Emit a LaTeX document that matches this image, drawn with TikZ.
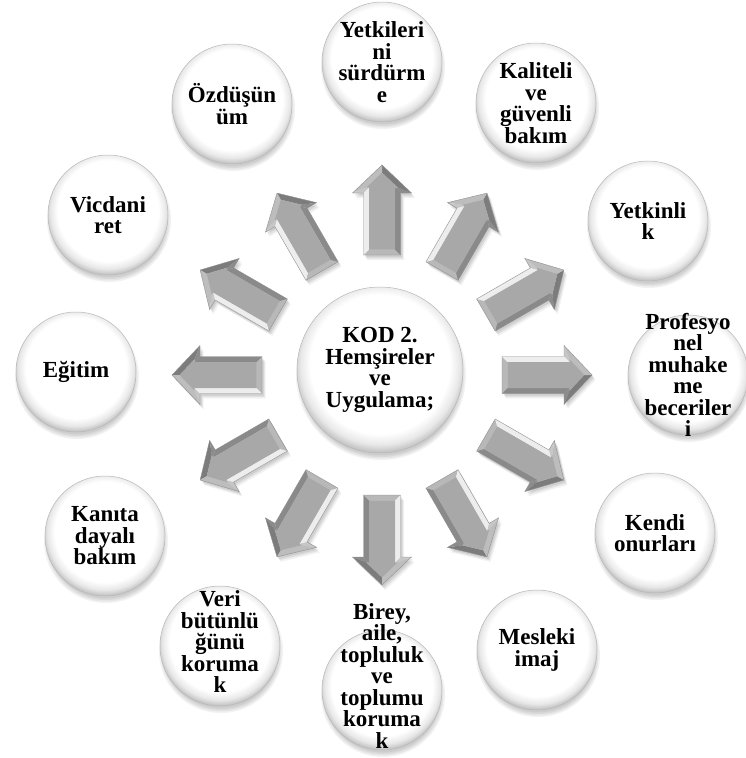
\documentclass[tikz,border=0pt]{standalone}
\usepackage{fontspec}
\setmainfont{Liberation Serif}
\usetikzlibrary{calc}
\pgfdeclareradialshading{btn}{\pgfpoint{0bp}{3bp}}{color(0bp)=(white); color(21bp)=(white); color(24bp)=(black!9); color(26.5bp)=(black!26); color(28bp)=(black!42); color(50bp)=(black!42)}
\tikzset{
  bubble/.style={circle, minimum size=120pt, inner sep=0pt, shading=btn, draw=black!28, line width=0.5pt},
  hub/.style={bubble, minimum size=166pt},
  lbl/.style={align=center, font=\fontsize{23}{21.5}\selectfont\bfseries, inner sep=0pt, text=black},
}
\definecolor{arrtailc}{HTML}{B8B8B8}
\definecolor{arrbotc}{HTML}{8A8A8A}
\definecolor{arrhblc}{HTML}{8C8C8C}
\definecolor{arrdlc}{HTML}{7C7C7C}
\definecolor{arrduc}{HTML}{BDBDBD}
\definecolor{arrhbuc}{HTML}{C6C6C6}
\definecolor{arrtopc}{HTML}{EDEDED}
\definecolor{arrfacec}{HTML}{A8A8A8}
\definecolor{arrlinec}{HTML}{909090}
\tikzset{
  arrtail/.style={fill=arrtailc}, arrbot/.style={fill=arrbotc}, arrhbl/.style={fill=arrhblc},
  arrdl/.style={fill=arrdlc}, arrdu/.style={fill=arrduc}, arrhbu/.style={fill=arrhbuc},
  arrtop/.style={fill=arrtopc}, arrface/.style={fill=arrfacec},
  arrline/.style={draw=arrlinec, line width=0.4pt},
}
% block arrow, local frame pointing +x, tail at 120 from the hub
\newcommand\blockarrow[1]{%
  \foreach \dx/\dy/\op in {3.5/-5/0.05, 2.5/-3.5/0.07, 1.5/-2/0.08}{%
    \fill[black, fill opacity=\op, shift={(ac)}, shift={(\dx,\dy)}, rotate=#1]
      (120,-18.5) -- (182,-18.5) -- (182,-29.5) -- (210,0) -- (182,29.5) -- (182,18.5) -- (120,18.5) -- cycle;
  }
  \begin{scope}[shift={(ac)}, rotate=#1, xshift=120]
    \coordinate (A) at (0,-18.5);  \coordinate (B) at (62,-18.5);
    \coordinate (C) at (62,-29.5); \coordinate (D) at (90,0);
    \coordinate (E) at (62,29.5);  \coordinate (F) at (62,18.5);
    \coordinate (G) at (0,18.5);
    \coordinate (A') at (5.5,-13);    \coordinate (B') at (67.5,-13);
    \coordinate (C') at (67.5,-15.7); \coordinate (D') at (82.4,0);
    \coordinate (E') at (67.5,15.7);  \coordinate (F') at (67.5,13);
    \coordinate (G') at (5.5,13);
    \fill[arrtail] (A) -- (G) -- (G') -- (A') -- cycle;
    \fill[arrbot] (A) -- (B) -- (B') -- (A') -- cycle;
    \fill[arrhbl] (B) -- (C) -- (C') -- (B') -- cycle;
    \fill[arrdl] (C) -- (D) -- (D') -- (C') -- cycle;
    \fill[arrdu] (D) -- (E) -- (E') -- (D') -- cycle;
    \fill[arrhbu] (E) -- (F) -- (F') -- (E') -- cycle;
    \fill[arrtop] (F) -- (G) -- (G') -- (F') -- cycle;
    \fill[arrface] (A') -- (B') -- (C') -- (D') -- (E') -- (F') -- (G') -- cycle;
    \draw[arrline] (A) -- (B) -- (C) -- (D) -- (E) -- (F) -- (G) -- cycle;
  \end{scope}}
\newcommand\bubbleshadow[2]{%
  \foreach \k/\op in {0/0.05, 1.5/0.05, 3/0.05, 4.5/0.05}{%
    \fill[black, fill opacity=\op] ($(#1)+(1,-5)$) circle ({#2+2-\k});
  }}
\begin{document}
\begin{tikzpicture}[x=1pt, y=1pt]
  \useasboundingbox (0,0) rectangle (746,-758);
  \fill[white] (0,0) rectangle (746,-758);
  \coordinate (ac) at (382,-375);
  \coordinate (p1) at (382,-62);
  \coordinate (p2) at (536,-103);
  \coordinate (p3) at (648,-221);
  \coordinate (p4) at (688,-375);
  \coordinate (p5) at (655,-533);
  \coordinate (p6) at (537,-650);
  \coordinate (p7) at (382,-690);
  \coordinate (p8) at (220,-646);
  \coordinate (p9) at (105,-536);
  \coordinate (p10) at (76,-372);
  \coordinate (p11) at (108,-215);
  \coordinate (p12) at (232,-104);
  \coordinate (pc) at (380,-370);
  % arrows
  \foreach \a in {90,60,30,0,-30,-60,-90,-120,-150,180,150,120}{\blockarrow{\a}}
  % shadows
  \foreach \i in {1,...,12}{\bubbleshadow{p\i}{60}}
  \bubbleshadow{pc}{83}
  % bubbles
  \foreach \i in {1,...,12}{\node[bubble] (b\i) at (p\i) {};}
  \node[hub] (hub) at (pc) {};
  % texts
  \node[lbl] (t0) at (hub) {KOD 2.\\Hemşireler\\ve\\Uygulama;};
  \node[lbl] (t1) at (b1) {Yetkileri\\ni\\sürdürm\\e};
  \node[lbl] (t2) at (b2) {Kaliteli\\ve\\güvenli\\bakım};
  \node[lbl] (t3) at (b3) {Yetkinli\\k};
  \node[lbl] (t4) at (b4) {Profesyo\\nel\\muhake\\me\\beceriler\\i};
  \node[lbl] (t5) at (b5) {Kendi\\onurları};
  \node[lbl] (t6) at (b6) {Mesleki\\imaj};
  \node[lbl] (t7) at ($(b7)+(0,14)$) {Birey,\\aile,\\topluluk\\ve\\toplumu\\koruma\\k};
  \node[lbl] (t8) at ($(b8)+(0,4)$) {Veri\\bütünlü\\ğünü\\koruma\\k};
  \node[lbl] (t9) at (b9) {Kanıta\\dayalı\\bakım};
  \node[lbl] (t10) at (b10) {Eğitim};
  \node[lbl] (t11) at (b11) {Vicdani\\ret};
  \node[lbl] (t12) at (b12) {Özdüşün\\üm};
\end{tikzpicture}
\end{document}
